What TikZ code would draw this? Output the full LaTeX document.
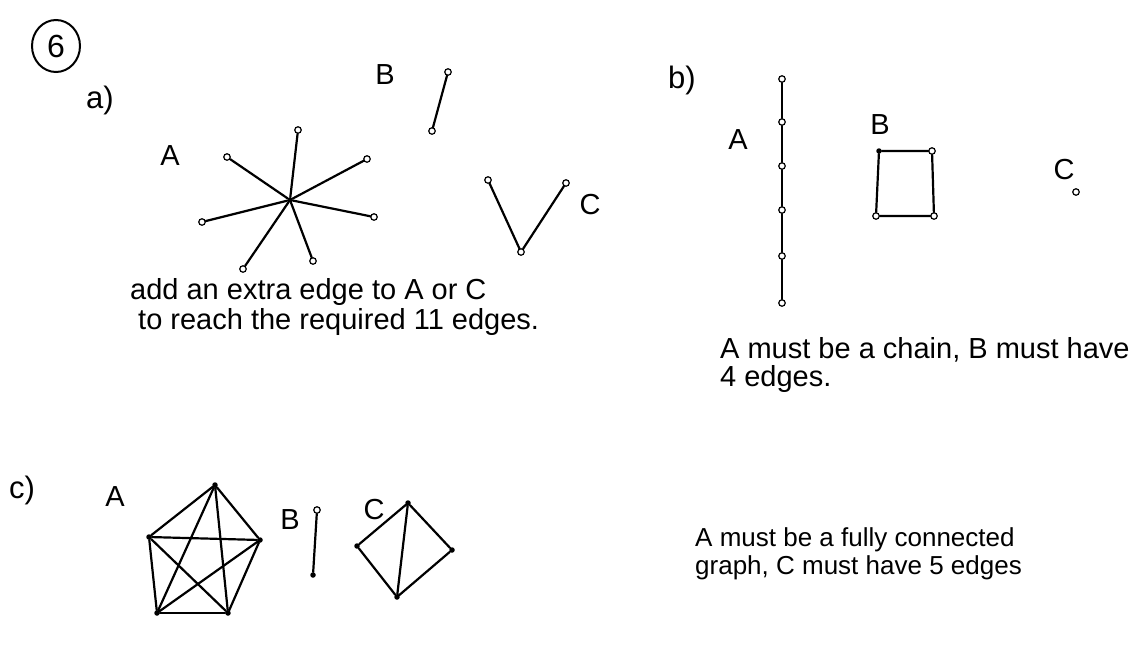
\documentclass[tikz,border=0pt]{standalone}
\usepackage{fontspec}
\setmainfont{Liberation Sans}
\usetikzlibrary{positioning, shapes.geometric}
\tikzset{
  gvert/.style={draw, circle, minimum size=6.5pt, inner sep=0pt,
                fill=white, line width=1.2pt},
  gdot/.style={circle, fill, minimum size=5.5pt, inner sep=0pt},
  gedge/.style={line width=2.2pt, line cap=round},
  glabel/.style={font=\fontsize{29}{31}\selectfont},
  gpart/.style={font=\fontsize{31}{33}\selectfont},
  gnote/.style={font=\fontsize{29}{31}\selectfont, anchor=west, inner sep=0pt},
}

\begin{document}
\begin{tikzpicture}[x=1pt, y=-1pt]
    \useasboundingbox[fill=white] (0,0) rectangle (1130,672);
    % question number
    \node[draw, ellipse, line width=2pt, minimum width=48pt, minimum height=52pt,
          font=\fontsize{32}{34}\selectfont] (q6) at (56,46) {6};
    \node[gpart] (pa) at (100,100) {a)};
    % part a, graph A: a star
    \node[glabel] (aA) at (170,156) {A};
    \node[gdot] (ac) at (290,200) {};
    \node[gvert] (a1) at (227,157) {};
    \node[gvert] (a2) at (298,130) {};
    \node[gvert] (a3) at (367,159) {};
    \node[gvert] (a4) at (202,222) {};
    \node[gvert] (a5) at (374,217) {};
    \node[gvert] (a6) at (243,269) {};
    \node[gvert] (a7) at (313,261) {};
    \foreach \v in {a1,a2,a3,a4,a5,a6,a7}
      \draw[gedge] (ac) -- (\v);
    % part a, graph B
    \node[glabel] (aB) at (385,75) {B};
    \node[gvert] (b1) at (448,72) {};
    \node[gvert] (b2) at (432,131) {};
    \draw[gedge] (b1) -- (b2);
    % part a, graph C
    \node[glabel] (aC) at (590,205) {C};
    \node[gvert] (c1) at (488,180) {};
    \node[gvert] (c2) at (521,252) {};
    \node[gvert] (c3) at (566,183) {};
    \draw[gedge] (c1) -- (c2) -- (c3);
    \node[gnote] (na1) at (130,292) {add an extra edge to A or C};
    \node[gnote] (na2) at (138,322) {to reach the required 11 edges.};
    % part b
    \node[gpart] (pb) at (682,80) {b)};
    \node[glabel] (bA) at (738,140) {A};
    \foreach \i/\y in {1/79,2/122,3/166,4/210,5/256,6/303}
      \node[gvert] (d\i) at (782,\y) {};
    \foreach \i [evaluate=\i as \j using int(\i+1)] in {1,...,5}
      \draw[gedge] (d\i) -- (d\j);
    \node[glabel] (bB) at (880,125) {B};
    \node[gdot] (s1) at (879,151) {};
    \node[gvert] (s2) at (932,151) {};
    \node[gvert] (s3) at (934,216) {};
    \node[gvert] (s4) at (876,216) {};
    \draw[gedge] (s1) -- (s2) -- (s3) -- (s4) -- (s1);
    \node[glabel] (bC) at (1064,170) {C};
    \node[gvert] (e1) at (1076,192) {};
    \node[gnote] (nb1) at (720,350) {A must be a chain, B must have};
    \node[gnote] (nb2) at (720,379) {4 edges.};
    % part c
    \node[gpart] (pc) at (22,490) {c)};
    \node[glabel] (cA) at (115,497) {A};
    \node[gdot] (p1) at (215,485) {};
    \node[gdot] (p2) at (260,540) {};
    \node[gdot] (p3) at (228,613) {};
    \node[gdot] (p4) at (157,613) {};
    \node[gdot] (p5) at (149,537) {};
    \foreach \u/\v in {p1/p2,p1/p3,p1/p4,p1/p5,p2/p3,p2/p4,p2/p5,p3/p4,p3/p5,p4/p5}
      \draw[gedge] (\u) -- (\v);
    \node[glabel] (cB) at (290,520) {B};
    \node[gvert] (f1) at (317,510) {};
    \node[gdot] (f2) at (313,575) {};
    \draw[gedge] (f1) -- (f2);
    \node[glabel] (cC) at (374,510) {C};
    \node[gdot] (k1) at (408,503) {};
    \node[gdot] (k2) at (452,550) {};
    \node[gdot] (k3) at (397,597) {};
    \node[gdot] (k4) at (357,546) {};
    \draw[gedge] (k1) -- (k2) -- (k3) -- (k4) -- (k1) -- (k3);
    \node[gnote, font=\fontsize{26}{28}\selectfont] (nc1) at (695,540) {A must be a fully connected};
    \node[gnote, font=\fontsize{26}{28}\selectfont] (nc2) at (695,568) {graph, C must have 5 edges};
\end{tikzpicture}
\end{document}
